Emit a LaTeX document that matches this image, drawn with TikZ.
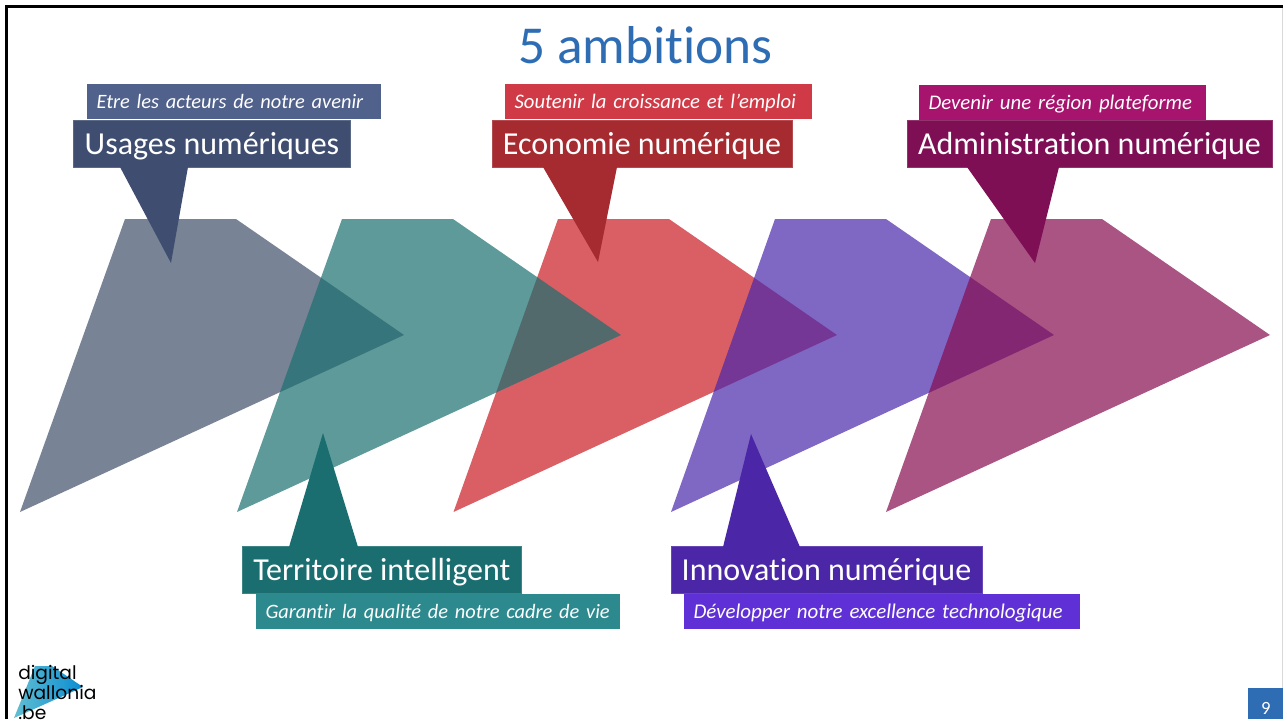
\documentclass[tikz,border=0pt]{standalone}
\usepackage{fontspec}
\setmainfont[RawFeature=-liga]{Carlito}
\newfontfamily\logofont{Poppins}

\definecolor{titleblue}{HTML}{2E6DB4}
\definecolor{usagesdark}{HTML}{3F4E70}
\definecolor{usagessub}{HTML}{50618B}
\definecolor{usagesarrow}{HTML}{414F6A}
\definecolor{territoiredark}{HTML}{1A6E70}
\definecolor{territoiresub}{HTML}{2C8A8E}
\definecolor{territoirearrow}{HTML}{1A7070}
\definecolor{economiedark}{HTML}{A52B30}
\definecolor{economiesub}{HTML}{CF3A46}
\definecolor{economiearrow}{HTML}{C91C23}
\definecolor{innovationdark}{HTML}{4B27A8}
\definecolor{innovationsub}{HTML}{5F30D6}
\definecolor{innovationarrow}{HTML}{4A27AB}
\definecolor{adminDark}{HTML}{7F0F55}
\definecolor{adminSub}{HTML}{A6146E}
\definecolor{adminArrow}{HTML}{860C51}
\definecolor{logoleft}{HTML}{62BFD2}
\definecolor{logoright}{HTML}{0A8CD2}

\tikzset{
    bigarrow/.style={opacity=0.7},
    headbox/.style={minimum height=35.25pt, inner ysep=0pt, inner xsep=0pt, text height=15.75pt, text depth=0pt, text=white, font=\fontsize{24}{28}\selectfont},
    subbox/.style={anchor=west, minimum height=26pt, inner ysep=0pt, inner xsep=7pt, text height=10.2pt, text depth=0pt, align=left, text=white, font=\fontsize{15.3}{18}\selectfont\itshape},
}

\begin{document}
\begin{tikzpicture}[x=0.75pt, y=-0.75pt]
    \useasboundingbox (0,0) rectangle (1283,719);
    \fill[white] (0,0) rectangle (1283,719);

    % frame
    \draw[black!15, line width=1pt] (1282.5,6) -- (1282.5,719);
    \draw[black, line width=2pt] (6.3,719) -- (6.3,6.3) -- (1283,6.3);

    \node[text=titleblue, font=\fontsize{40}{44}\selectfont] (title) at (645.5,45) {5 ambitions};

    % the five big arrows
    \fill[usagesarrow, bigarrow] (125,219) -- (236,219) -- (404,335) -- (20,512) -- cycle;
    \fill[economiearrow, bigarrow] (558,219) -- (669,219) -- (837,335) -- (453.5,512) -- cycle;
    \fill[territoirearrow, bigarrow] (342,219) -- (453,219) -- (621,335) -- (237,512) -- cycle;
    \fill[innovationarrow, bigarrow] (775,219) -- (886,219) -- (1054,335) -- (671,512) -- cycle;
    \fill[adminArrow, bigarrow] (991,219) -- (1102,219) -- (1270,335) -- (886,512) -- cycle;

    % sub titles
    \node[subbox, fill=usagessub, text width=206pt] (usagessub) at (87,101.5) {Etre les acteurs de notre avenir};
    \node[subbox, fill=economiesub, text width=216.25pt, font=\fontsize{15.5}{18}\selectfont\itshape] (economiesub) at (505,101.5) {Soutenir la croissance et l’emploi};
    \node[subbox, fill=adminSub, text width=201.25pt, font=\fontsize{15.6}{18}\selectfont\itshape] (adminsub) at (919,102.5) {Devenir une région plateforme};
    \node[subbox, fill=territoiresub, text width=259pt] (territoiresub) at (256,611.5) {Garantir la qualité de notre cadre de vie};
    \node[subbox, fill=innovationsub, text width=283pt, font=\fontsize{15.7}{18}\selectfont\itshape] (innovationsub) at (684,611.5) {Développer notre excellence technologique};

    % head boxes
    \node[headbox, fill=usagesdark, draw=usagesdark!85!white, minimum width=207.4pt] (usages) at (212,143.5) {Usages numériques};
    \node[headbox, fill=economiedark, draw=economiedark!85!white, minimum width=225pt] (economie) at (642,143.5) {Economie numérique};
    \node[headbox, fill=adminDark, draw=adminDark!85!white, minimum width=273.75pt] (admin) at (1089.5,143.5) {Administration numérique};
    \node[headbox, fill=territoiredark, draw=territoiredark!85!white, minimum width=208.9pt] (territoire) at (381.8,570) {Territoire intelligent};
    \node[headbox, fill=innovationdark, draw=innovationdark!85!white, minimum width=233.25pt] (innovation) at (826.5,570) {Innovation numérique};

    % pointers
    \fill[usagesdark] (120,167) -- (171,263) -- (188,167) -- cycle;
    \fill[economiedark] (543,167) -- (598,262) -- (617,167) -- cycle;
    \fill[adminDark] (967,167) -- (1035,263) -- (1059,167) -- cycle;
    \fill[territoiredark] (289,547) -- (323,433) -- (358,547) -- cycle;
    \fill[innovationdark] (723,547) -- (751,434) -- (800,547) -- cycle;

    % logo
    \shade[left color=logoleft, right color=logoright] (35,666) -- (52,666) -- (83,687) -- (14,718) -- cycle;
    \node[anchor=north west, inner sep=0pt, align=left, font=\logofont\fontsize{14}{15}\selectfont] (logo) at (18,665) {digital\\wallonia\\.be};

    % page number
    \node[anchor=north west, fill=titleblue, text=white, minimum width=26.25pt, minimum height=23.25pt, inner sep=0pt, text height=15.75pt, text depth=0pt, font=\fontsize{14}{16}\selectfont] (page) at (1248,688) {9};
\end{tikzpicture}
\end{document}
